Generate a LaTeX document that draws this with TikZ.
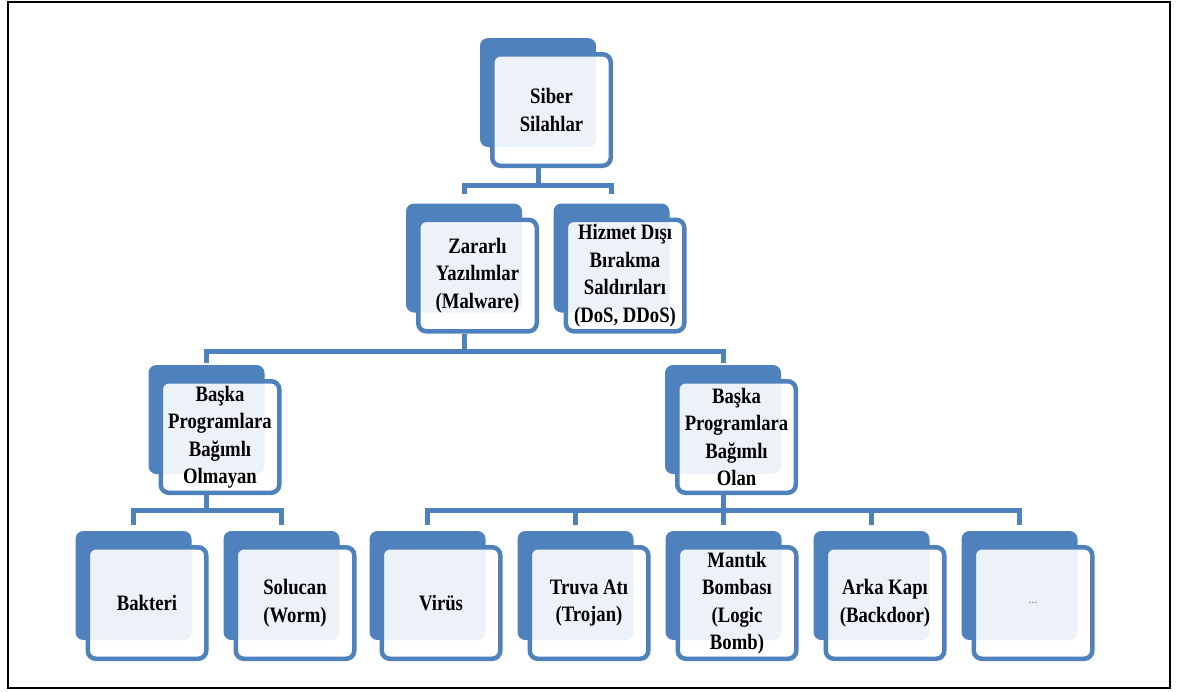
\documentclass[tikz,border=0pt]{standalone}
\usepackage{fontspec}
\setmainfont{Liberation Serif}[FakeStretch=0.85]
\usetikzlibrary{calc}
\definecolor{obl}{HTML}{4F81BD}
\tikzset{
  backbox/.style={rectangle, rounded corners=8pt, fill=obl, draw=none,
    minimum width=116pt, minimum height=109pt, inner sep=0pt},
  frontbox/.style={rectangle, rounded corners=8pt, draw=obl, line width=4.5pt,
    fill=white, fill opacity=0.9, text opacity=1,
    minimum width=118.5pt, minimum height=111.5pt, inner sep=0pt,
    align=center, font=\bfseries\fontsize{22}{27.5}\selectfont},
  conn/.style={draw=obl, line width=5pt, line join=miter}
}
\newcommand\tbox[4]{%
  \node[backbox] (#1B) at (#2-13.5,#3-17.5) {};
  \node[frontbox] (#1) at (#2,#3) {#4};}
\begin{document}
\begin{tikzpicture}[x=1pt,y=-1pt]
\useasboundingbox (0,0) rectangle (1177,691);
\fill[white] (0,0) rectangle (1177,691);
\draw[line width=2pt] (8,2) rectangle (1170,688);

\tbox{siber}{551.5}{110}{Siber\\Silahlar}
\tbox{zarar}{477.5}{275.5}{Zararlı\\Yazılımlar\\(Malware)}
\tbox{hizmet}{625}{275.5}{Hizmet Dışı\\Bırakma\\Saldırıları\\(DoS, DDoS)}
\tbox{olmayan}{220}{437}{Başka\\Programlara\\Bağımlı\\Olmayan}
\tbox{olan}{736.5}{437}{Başka\\Programlara\\Bağımlı\\Olan}
\tbox{bakteri}{147}{603}{Bakteri}
\tbox{solucan}{295}{603}{Solucan\\(Worm)}
\tbox{virus}{441}{603}{Virüs}
\tbox{truva}{589}{603}{Truva Atı\\(Trojan)}
\tbox{mantik}{737}{603}{Mantık\\Bombası\\(Logic\\Bomb)}
\tbox{arka}{885}{603}{Arka Kapı\\(Backdoor)}
\tbox{dots}{1033}{603}{\textcolor{gray}{\mdseries\fontsize{14}{14}\selectfont ...}}

% level 1
\coordinate (bus1) at (538,185);
\draw[conn] (siberB |- siber.south) -- (bus1);
\draw[conn] ([yshift=9pt]zararB.north) |- (bus1) -| ([yshift=9pt]hizmetB.north);
% level 2
\coordinate (bus2) at (464,351);
\draw[conn] (zararB |- zarar.south) -- (bus2);
\draw[conn] ([yshift=2pt]olmayanB.north) |- (bus2) -| ([yshift=2pt]olanB.north);
% level 3 left
\coordinate (bus3a) at (206.5,510);
\draw[conn] (olmayanB |- olmayan.south) -- (bus3a);
\draw[conn] ([yshift=6pt]bakteriB.north) |- (bus3a) -| ([yshift=6pt]solucanB.north);
% level 3 right
\coordinate (bus3b) at (723,510);
\draw[conn] (olanB |- olan.south) -- (bus3b);
\draw[conn] ([yshift=6pt]virusB.north) |- (bus3b) -| ([yshift=6pt]dotsB.north);
\foreach \n in {truva,mantik,arka}
  \draw[conn] ([yshift=6pt]\n B.north) -- (\n B.north |- bus3b);
\end{tikzpicture}
\end{document}
